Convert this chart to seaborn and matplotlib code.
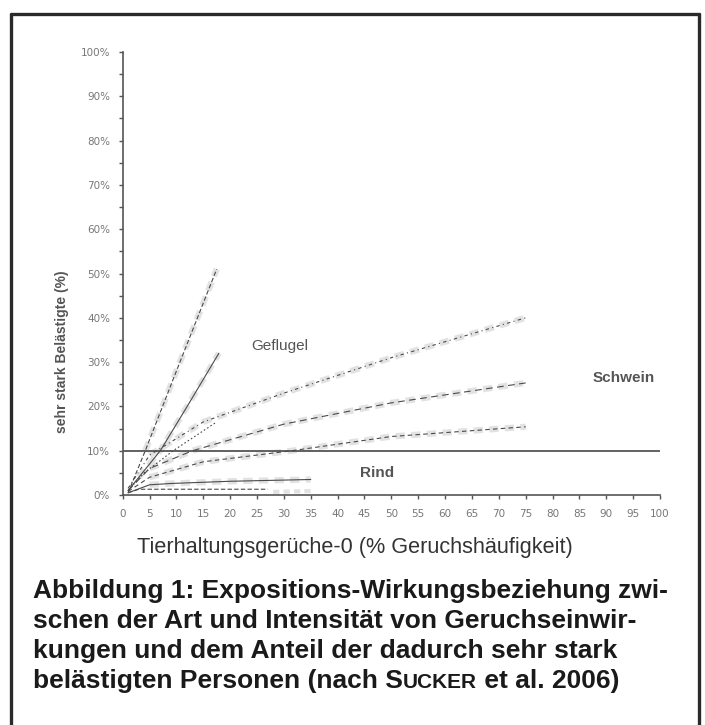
import matplotlib
matplotlib.use("Agg")
import matplotlib.pyplot as plt
import pandas as pd
import seaborn as sns

# Werte (x: % Geruchshaeufigkeit, y: % sehr stark Belaestigte)
gefluegel_x = [1, 4.2, 10, 17.5]
gefluegel_oben = [0.5, 10, 28, 51]
gefluegel_mitte_x = [1, 3, 7, 12, 17.9]
gefluegel_mitte = [1, 4, 10, 20, 32]
gefluegel_unten_x = [1, 4, 9.4, 17.5]
gefluegel_unten = [1, 5, 10, 16.5]

schwein_x = [1, 5, 15, 30, 50, 75]
schwein_oben = [1.5, 9, 16.5, 23, 31, 40]
schwein_mitte_x = [1, 5, 13, 30, 50, 75]
schwein_mitte = [1, 6, 10, 16, 20.8, 25.3]
schwein_unten_x = [1, 5, 15, 31.5, 50, 75]
schwein_unten = [0.8, 4, 7.5, 10, 13.2, 15.4]

rind_oben_x = [1, 5, 9, 20, 35]
rind_oben = [0.5, 2.3, 2.6, 3.1, 3.5]
rind_unten_x = [1, 3, 27]
rind_unten = [0.5, 1.3, 1.3]
rind_band_x = [28, 35]
rind_band = [0.7, 0.9]

x_ticks = list(range(0, 101, 5))
y_ticks = list(range(0, 101, 10))
y_ticklabels = [f"{v}%" for v in y_ticks]

labels = {"Geflugel": (29.3, 33.6), "Schwein": (93.2, 26.4), "Rind": (47.4, 5.0)}

caption_lines = [
    "Abbildung 1: Expositions-Wirkungsbeziehung zwi-",
    "schen der Art und Intensität von Geruchseinwir-",
    "kungen und dem Anteil der dadurch sehr stark",
]
caption_last = ["belästigten Personen (nach S", "UCKER", " et al. 2006)"]

sns.set_theme(style="white")
plt.rcParams["font.family"] = ["Liberation Sans", "DejaVu Sans"]

W, H = 705, 725
fig = plt.figure(figsize=(7.05, 7.25), dpi=100)
ax = fig.add_axes([122.7 / W, 1 - 495 / H, (660 - 122.7) / W, (495 - 52) / H])

curves = [
    (gefluegel_x, gefluegel_oben, (0, (4, 2)), True),
    (gefluegel_mitte_x, gefluegel_mitte, "-", True),
    (gefluegel_unten_x, gefluegel_unten, (0, (1.5, 2)), False),
    (schwein_x, schwein_oben, (0, (3, 3, 1, 3)), True),
    (schwein_mitte_x, schwein_mitte, (0, (6, 4)), True),
    (schwein_unten_x, schwein_unten, (0, (4, 3)), True),
    (rind_oben_x, rind_oben, "-", True),
    (rind_unten_x, rind_unten, (0, (4, 2)), False),
]

# breite, helle Baender unter den Kurven
for xs, ys, ls, band in curves:
    if band:
        df = pd.DataFrame({"x": xs[1:], "y": ys[1:]})
        sns.lineplot(data=df, x="x", y="y", ax=ax, color="#e2e2e2", lw=4.5,
                     linestyle=(0, (1.5, 1)), zorder=1)
sns.lineplot(x=rind_band_x, y=rind_band, ax=ax, color="#e2e2e2", lw=3,
             linestyle=(0, (1.5, 1)), zorder=1)

for xs, ys, ls, band in curves:
    df = pd.DataFrame({"x": xs, "y": ys})
    sns.lineplot(data=df, x="x", y="y", ax=ax, color="#4a4a4a", lw=0.8,
                 linestyle=ls, zorder=3)

ax.axhline(10, color="#555555", lw=1.3, zorder=2)

for name, (lx, ly) in labels.items():
    ax.text(lx, ly, name, ha="center", va="center", fontsize=11,
            color="#555555", fontweight="normal" if name == "Geflugel" else "bold")

ax.set_xlim(0, 100)
ax.set_ylim(0, 100)
ax.set_xticks(x_ticks)
ax.set_xticklabels([str(v) for v in x_ticks], fontsize=7.5, color="#777777",
                   family="DejaVu Sans")
ax.set_yticks(y_ticks)
ax.set_yticklabels(y_ticklabels, fontsize=7.5, color="#777777",
                   family="DejaVu Sans")
ax.set_yticks(range(5, 100, 10), minor=True)
ax.tick_params(axis="both", which="both", direction="out", length=3, width=1,
               color="#555555", left=True, bottom=True)
ax.tick_params(axis="y", which="major", pad=6)
ax.tick_params(axis="x", which="major", pad=7)
for s in ["top", "right"]:
    ax.spines[s].set_visible(False)
for s in ["left", "bottom"]:
    ax.spines[s].set_color("#555555")
    ax.spines[s].set_linewidth(1.2)

ax.set_xlabel("Tierhaltungsgerüche-0 (% Geruchshäufigkeit)", fontsize=15.6,
              color="#333333")
ax.xaxis.set_label_coords((355 - 122.7) / (660 - 122.7), -(547 - 495) / (495 - 52))
ax.xaxis.label.set_va("center")
ax.set_ylabel("sehr stark Belästigte (%)", fontsize=10, color="#555555",
              fontweight="bold")
ax.yaxis.set_label_coords(-(122.7 - 62) / (660 - 122.7), (495 - 352) / (495 - 52))
ax.yaxis.label.set_va("center")

# Bildunterschrift
cap_kw = dict(fontsize=19, fontweight="bold", color="#1a1a1a",
              va="baseline", ha="left")
x0 = 33 / W
base = [598, 628, 658, 688]
for line, b in zip(caption_lines, base):
    fig.text(x0, 1 - b / H, line, **cap_kw)
fig.canvas.draw()
renderer = fig.canvas.get_renderer()
xpos = x0
for i, part in enumerate(caption_last):
    kw = dict(cap_kw)
    if i == 1:
        kw["fontsize"] = 15
    t = fig.text(xpos, 1 - base[3] / H, part, **kw)
    xpos = fig.transFigure.inverted().transform(
        (t.get_window_extent(renderer).x1, 0))[0]

# Rahmen (unten offen)
frame = dict(color="#2a2a2a", lw=2.4, transform=fig.transFigure)
fig.add_artist(plt.Line2D([11 / W, 699 / W], [1 - 14 / H, 1 - 14 / H], **frame))
fig.add_artist(plt.Line2D([11 / W, 11 / W], [0.0, 1 - 14 / H], **frame))
fig.add_artist(plt.Line2D([699 / W, 699 / W], [0.0, 1 - 14 / H], **frame))

fig.savefig("out.png", dpi=100)
